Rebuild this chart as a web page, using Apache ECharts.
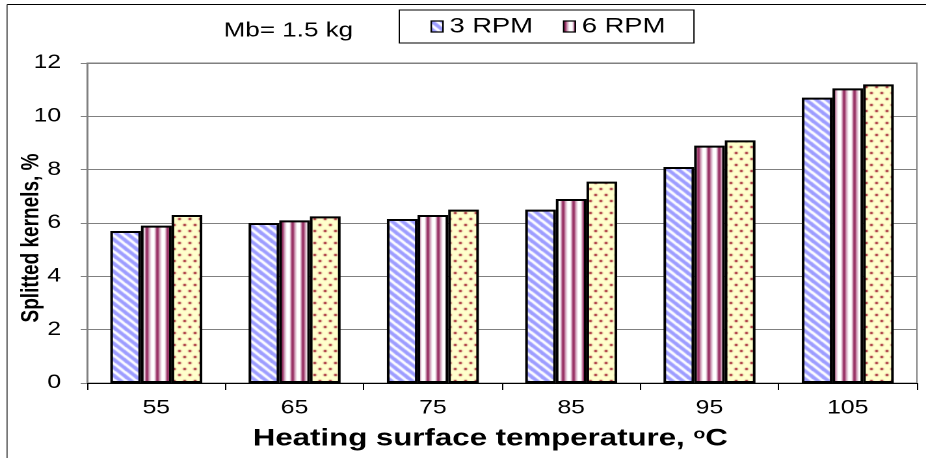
<!DOCTYPE html>
<html>
<head>
<meta charset="utf-8">
<script src="https://cdn.jsdelivr.net/npm/echarts@6/dist/echarts.min.js"></script>
<style>
  html, body { margin: 0; padding: 0; background: #fff; overflow: hidden; }
  #wrap { width: 926px; height: 458px; overflow: hidden; position: relative; }
  /* the chart is laid out on a narrower canvas and widened to the page width */
  #chart { width: 712px; height: 458px; transform: scaleX(1.3006); transform-origin: 0 0; }
</style>
</head>
<body>
<div id="wrap"><div id="chart"></div></div>
<script>
// Heating surface temperature, °C
const temperatures = ['55', '65', '75', '85', '95', '105'];
// Splitted kernels, % for each drum speed
const rpm3 = [5.7, 6.0, 6.15, 6.5, 8.1, 10.7];
const rpm6 = [5.9, 6.1, 6.3, 6.9, 8.9, 11.05];
const rpm9 = [6.3, 6.25, 6.5, 7.55, 9.1, 11.2];
const seriesNames = ['3 RPM', '6 RPM', '9 RPM'];
const legendNames = ['3 RPM', '6 RPM'];

const FONT = '"Liberation Sans", Arial, Helvetica, sans-serif';

// small repeating tiles used as bar fills
function makeTile(w, h, draw) {
  const c = document.createElement('canvas');
  c.width = w; c.height = h;
  draw(c.getContext('2d'), w, h);
  return c;
}
const diagTile = makeTile(8, 8, (g, w, h) => {
  g.fillStyle = '#ffffff'; g.fillRect(0, 0, w, h);
  g.strokeStyle = '#9c9cff'; g.lineWidth = 3.2;
  for (const c of [-8, 0, 8]) {
    g.beginPath(); g.moveTo(-1, c - 1); g.lineTo(w + 1, h + c + 1); g.stroke();
  }
});
const stripeTile = makeTile(8, 4, (g, w, h) => {
  g.fillStyle = '#ffffff'; g.fillRect(0, 0, w, h);
  g.fillStyle = '#993366'; g.fillRect(0, 0, 2.6, h);
  g.fillStyle = '#d6aac2'; g.fillRect(2.6, 0, 1, h); g.fillRect(7, 0, 1, h);
});
const dotTile = makeTile(8, 12, (g, w, h) => {
  g.fillStyle = '#ffffcc'; g.fillRect(0, 0, w, h);
  g.fillStyle = '#a8303c';
  g.beginPath(); g.arc(2, 3, 1.3, 0, Math.PI * 2); g.fill();
  g.beginPath(); g.arc(6, 9, 1.3, 0, Math.PI * 2); g.fill();
});
const fills = [diagTile, stripeTile, dotTile].map(img => ({ image: img, repeat: 'repeat' }));

const chart = echarts.init(document.getElementById('chart'), null, { devicePixelRatio: 2 });

chart.setOption({
  animation: false,
  backgroundColor: '#ffffff',
  textStyle: { fontFamily: FONT, color: '#000' },
  title: {
    text: 'Mb= 1.5 kg',
    left: 172, top: 21, padding: 0,
    textStyle: { fontFamily: FONT, fontSize: 20, fontWeight: 'normal', color: '#000' }
  },
  legend: {
    data: legendNames,
    left: 307, top: 10,
    padding: [6, 22, 6, 24],
    itemGap: 23, itemWidth: 9, itemHeight: 11,
    borderColor: '#000', borderWidth: 1,
    icon: 'rect',
    itemStyle: { borderColor: '#000', borderWidth: 1.2 },
    textStyle: { fontFamily: FONT, fontSize: 21, color: '#000' }
  },
  grid: {
    left: 67, right: 7, top: 63, bottom: 75,
    containLabel: false,
    outerBoundsMode: 'none',
    show: true, borderColor: '#808080', borderWidth: 1, backgroundColor: 'transparent'
  },
  graphic: [
    { type: 'line', shape: { x1: 5.4, y1: 4.5, x2: 712, y2: 4.5 }, style: { stroke: '#000', lineWidth: 1 } },
    { type: 'line', shape: { x1: 5.4, y1: 4.5, x2: 5.4, y2: 458 }, style: { stroke: '#555', lineWidth: 1 } }
  ],
  xAxis: {
    type: 'category',
    data: temperatures,
    boundaryGap: true,
    name: 'Heating surface temperature, {sup|o}C',
    nameLocation: 'middle',
    nameGap: 44,
    nameMoveOverlap: false,
    nameTextStyle: {
      fontFamily: FONT, fontSize: 24, fontWeight: 'bold', color: '#000',
      padding: [0, 18, 0, 0],
      rich: { sup: { fontFamily: FONT, fontSize: 15, fontWeight: 'bold', verticalAlign: 'top', padding: [0, 0, 9, 0] } }
    },
    axisLine: { lineStyle: { color: '#000', width: 1 } },
    axisTick: { show: true, alignWithLabel: false, length: 7, lineStyle: { color: '#000' } },
    axisLabel: { fontFamily: FONT, fontSize: 19, color: '#000', margin: 16 },
    splitLine: { show: false }
  },
  yAxis: {
    type: 'value',
    min: 0, max: 12, interval: 2,
    name: 'Splitted kernels, %',
    nameLocation: 'middle',
    nameGap: 33,
    nameMoveOverlap: false,
    nameTextStyle: { fontFamily: FONT, fontSize: 19, fontWeight: 'bold', color: '#000', padding: [0, 30, 0, 0] },
    axisLine: { show: true, lineStyle: { color: '#808080', width: 1 } },
    axisTick: { show: true, length: 5, lineStyle: { color: '#808080' } },
    axisLabel: { fontFamily: FONT, fontSize: 19, color: '#000', margin: 20 },
    splitLine: { show: true, lineStyle: { color: '#808080', width: 1 } }
  },
  series: [rpm3, rpm6, rpm9].map((vals, i) => ({
    name: seriesNames[i],
    type: 'bar',
    data: vals,
    barGap: '0%',
    barCategoryGap: '33.5%',
    itemStyle: { color: fills[i], borderColor: '#000', borderWidth: 2 }
  }))
});
</script>
</body>
</html>
